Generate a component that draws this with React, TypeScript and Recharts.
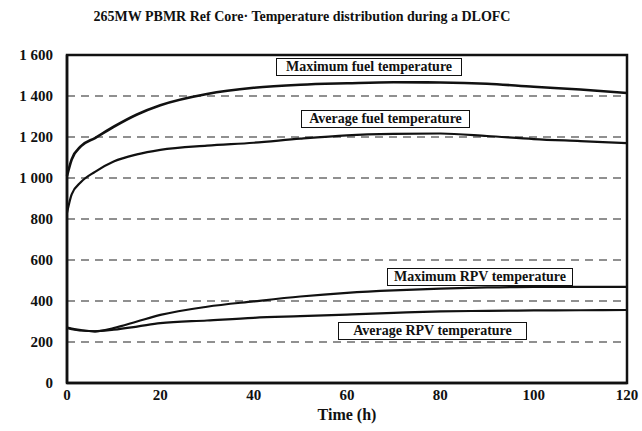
import { CartesianGrid, Line, LineChart, ReferenceArea, XAxis, YAxis } from "recharts";

const hours = [0, 1, 3, 6, 10, 15, 20, 30, 40, 50, 60, 70, 80, 90, 100, 110, 120];
const maxFuel = [1010, 1090, 1155, 1195, 1250, 1310, 1355, 1410, 1440, 1455, 1462, 1467, 1466, 1460, 1445, 1432, 1415];
const avgFuel = [830, 920, 980, 1030, 1080, 1115, 1137, 1158, 1172, 1192, 1208, 1215, 1217, 1205, 1190, 1180, 1170];
const maxRpv = [270, 265, 258, 252, 268, 300, 332, 372, 398, 422, 440, 452, 460, 466, 469, 469, 469];
const avgRpv = [268, 262, 256, 252, 260, 275, 292, 305, 318, 326, 334, 342, 349, 352, 354, 355, 356];

const xTicks = [0, 20, 40, 60, 80, 100, 120];
const yTicks = [0, 200, 400, 600, 800, 1000, 1200, 1400, 1600];

const data = hours.map((t, i) => ({
  t,
  maxFuel: maxFuel[i],
  avgFuel: avgFuel[i],
  maxRpv: maxRpv[i],
  avgRpv: avgRpv[i],
}));

const font = "'Liberation Serif', serif";
const tickStyle = { fontSize: 15, fill: "#111", fontWeight: 700, fontFamily: font };

const fmtY = (v: number) => (v >= 1000 ? `1 ${String(v).slice(1)}` : String(v));

function Tag({ text, left, top, width }: { text: string; left: number; top: number; width: number }) {
  return (
    <div
      style={{
        position: "absolute",
        left,
        top,
        width,
        height: 18,
        border: "1.5px solid #111",
        background: "#fff",
        fontFamily: font,
        fontWeight: 700,
        fontSize: 14,
        lineHeight: "16px",
        textAlign: "center",
        color: "#111",
        boxSizing: "border-box",
      }}
    >
      {text}
    </div>
  );
}

export default function App() {
  return (
    <div style={{ position: "absolute", left: 0, top: 0, width: 642, height: 431, background: "#fff" }}>
      <div
        style={{
          position: "absolute",
          left: 0,
          top: 9,
          width: 604,
          textAlign: "center",
          fontFamily: font,
          fontWeight: 700,
          fontSize: 14,
          color: "#111",
        }}
      >
        265MW PBMR Ref Core· Temperature distribution during a DLOFC
      </div>
      <LineChart
        width={642}
        height={431}
        data={data}
        margin={{ top: 55, right: 15, bottom: 9, left: 12 }}
      >
        <CartesianGrid vertical={false} stroke="#222" strokeWidth={1.2} strokeDasharray="8 6" />
        <XAxis
          dataKey="t"
          type="number"
          domain={[0, 120]}
          ticks={xTicks}
          height={39}
          tickLine={false}
          tickSize={0}
          tickMargin={6}
          axisLine={{ stroke: "#111", strokeWidth: 2.5 }}
          tick={tickStyle}
          label={{ value: "Time (h)", position: "insideBottom", offset: 2, fontSize: 16, fontWeight: 700, fill: "#111", fontFamily: font }}
        />
        <YAxis
          type="number"
          domain={[0, 1600]}
          ticks={yTicks}
          width={55}
          tickLine={false}
          tickSize={0}
          tickMargin={14}
          axisLine={{ stroke: "#111", strokeWidth: 2.5 }}
          tick={tickStyle}
          tickFormatter={fmtY}
        />
        <ReferenceArea x1={0} x2={120} y1={0} y2={1600} fill="none" stroke="#111" strokeWidth={2.5} />
        <Line type="monotone" dataKey="maxFuel" stroke="#111" strokeWidth={2.6} dot={false} isAnimationActive={false} />
        <Line type="monotone" dataKey="avgFuel" stroke="#111" strokeWidth={2.2} dot={false} isAnimationActive={false} />
        <Line type="monotone" dataKey="maxRpv" stroke="#111" strokeWidth={2.2} dot={false} isAnimationActive={false} />
        <Line type="monotone" dataKey="avgRpv" stroke="#111" strokeWidth={2.2} dot={false} isAnimationActive={false} />
      </LineChart>
      <Tag text="Maximum fuel temperature" left={276} top={58} width={186} />
      <Tag text="Average fuel temperature" left={301} top={110} width={169} />
      <Tag text="Maximum RPV temperature" left={387} top={268} width={186} />
      <Tag text="Average RPV temperature" left={338} top={322} width={189} />
    </div>
  );
}
